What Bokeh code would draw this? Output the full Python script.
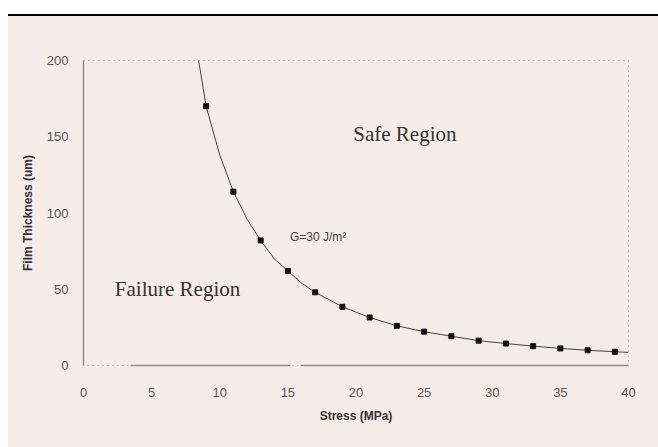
from bokeh.plotting import figure
from bokeh.models import Range1d, Label
from bokeh.embed import file_html
from bokeh.resources import INLINE

# Critical film thickness vs. residual stress for G = 30 J/m^2
stress = [9, 11, 13, 15, 17, 19, 21, 23, 25, 27, 29, 31, 33, 35, 37, 39]
thickness = [170, 114, 82, 62, 48, 38.5, 31.5, 26, 22.2, 19.2, 16.3, 14.4, 12.7, 11.2, 10, 9]

# smooth guide curve through the measured points
curve_stress = [8.45, 9, 10, 11, 12, 13, 14, 15, 16, 17, 19, 21, 23, 25, 27, 29, 31, 33, 35, 37, 39, 40]
curve_thickness = [200, 170, 138, 114, 96, 82, 70, 62, 54, 48, 38.5, 31.5, 26, 22.2, 19.2, 16.3, 14.4, 12.7, 11.2, 10, 9, 8.6]

x_ticks = [0, 5, 10, 15, 20, 25, 30, 35, 40]
y_ticks = [0, 50, 100, 150, 200]

BG = "#f6ede9"
SANS = "Liberation Sans"
SERIF = "Liberation Serif"

# panel background with a black rule along its top edge
page_styles = {
    "background-image": (
        "linear-gradient(to right, white 0px, white 8px, transparent 8px), "
        f"linear-gradient(to bottom, white 0px, white 14px, black 14px, black 16px, {BG} 16px)"
    ),
    "background-repeat": "no-repeat, no-repeat",
}

p = figure(width=658, height=447, output_backend="svg", toolbar_location=None,
           x_range=Range1d(0, 40), y_range=Range1d(0, 200),
           min_border_left=83, min_border_right=30, min_border_top=60, min_border_bottom=82,
           styles=page_styles)
p.background_fill_alpha = 0
p.border_fill_alpha = 0
p.outline_line_color = "#9a9a9a"
p.outline_line_dash = "1 4"
p.grid.visible = False

for ax in (p.xaxis[0], p.yaxis[0]):
    ax.axis_line_color = "#8f8f8f"
    ax.axis_line_width = 1.5
    ax.major_tick_line_color = None
    ax.minor_tick_line_color = None
    ax.major_label_text_font = SANS
    ax.major_label_text_font_size = "13px"
    ax.major_label_text_color = "#555555"
    ax.axis_label_text_font = SANS
    ax.axis_label_text_font_size = "12px"
    ax.axis_label_text_font_style = "bold"
    ax.axis_label_text_color = "#333333"

p.xaxis.ticker = x_ticks
p.yaxis.ticker = y_ticks
p.xaxis.axis_label = "Stress (MPa)"
p.yaxis.axis_label = "Film Thickness (um)"
p.xaxis.major_label_standoff = 16
p.xaxis.axis_label_standoff = 9
p.yaxis.major_label_standoff = 9
p.yaxis.axis_label_standoff = 9
p.xaxis.axis_line_dash = "0 47 160 10 1000"

p.line(curve_stress, curve_thickness, line_color="#444444", line_width=1)
p.scatter(stress, thickness, marker="square", size=5, color="#111111")

p.add_layout(Label(x=19.8, y=152, text="Safe Region", text_font=SERIF,
                   text_font_size="21px", text_color="#333333", text_baseline="middle"))
p.add_layout(Label(x=2.3, y=50, text="Failure  Region", text_font=SERIF,
                   text_font_size="21px", text_color="#333333", text_baseline="middle"))
p.add_layout(Label(x=15.15, y=84.5, text="G=30 J/m\u00b2", text_font=SANS,
                   text_font_size="12px", text_color="#444444", text_baseline="middle"))

open("out.html", "w").write(file_html(p, INLINE))
